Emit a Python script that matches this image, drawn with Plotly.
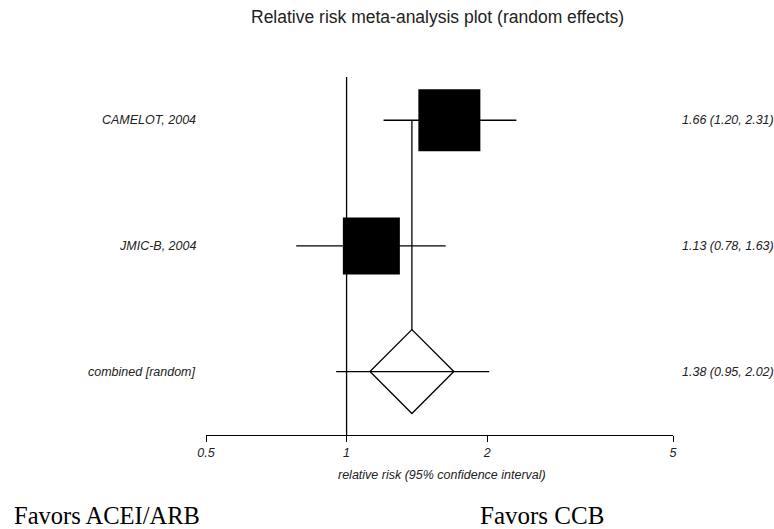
import math
import plotly.graph_objects as go

# ---------------- data ----------------
study_labels = ["CAMELOT, 2004", "JMIC-B, 2004"]
study_rr = [1.66, 1.13]
study_lo = [1.20, 0.78]
study_hi = [2.31, 1.63]
study_ci_text = ["1.66 (1.20, 2.31)", "1.13 (0.78, 1.63)"]
study_box_px = [62, 57]          # square side (relative weight), px

pooled_label = "combined [random]"
pooled_rr = 1.38
pooled_lo = 0.95
pooled_hi = 2.02
pooled_ci_text = "1.38 (0.95, 2.02)"

rows = [3, 2, 1]                 # vertical positions: studies then pooled
tick_vals = [0.5, 1, 2, 5]
tick_text = ["0.5", "1", "2", "5"]
x_min, x_max = 0.5, 5

title_text = "Relative risk meta-analysis plot (random effects)"
xaxis_text = "relative risk (95% confidence interval)"
favors_left = "Favors ACEI/ARB"
favors_right = "Favors CCB"

# ---------------- layout constants ----------------
W, H = 774, 529
L, R, T, B = 206, 101, 77, 94
SANS = "Liberation Sans, Arial, sans-serif"
SERIF = "Liberation Serif, Times New Roman, serif"
TXT = "#222222"
LW = 1.3

fig = go.Figure()

# pooled vertical line from first study row down to pooled row
fig.add_trace(go.Scatter(
    x=[pooled_rr, pooled_rr], y=[rows[0], rows[-1]],
    mode="lines", line=dict(color="black", width=LW),
    hoverinfo="skip", showlegend=False))

# study CI lines
for i in range(len(study_labels)):
    fig.add_trace(go.Scatter(
        x=[study_lo[i], study_hi[i]], y=[rows[i], rows[i]],
        mode="lines", line=dict(color="black", width=LW),
        hoverinfo="skip", showlegend=False))

# study squares
fig.add_trace(go.Scatter(
    x=study_rr, y=rows[:len(study_rr)], mode="markers",
    marker=dict(symbol="square", size=study_box_px, color="black", opacity=1,
                line=dict(width=0)),
    hoverinfo="skip", showlegend=False))

# pooled diamond (white fill hides vertical line)
fig.add_trace(go.Scatter(
    x=[pooled_rr], y=[rows[-1]], mode="markers",
    marker=dict(symbol="diamond", size=64.5, color="white", opacity=1,
                line=dict(color="black", width=LW)),
    hoverinfo="skip", showlegend=False))

# pooled CI line
fig.add_trace(go.Scatter(
    x=[pooled_lo, pooled_hi], y=[rows[-1], rows[-1]],
    mode="lines", line=dict(color="black", width=LW),
    hoverinfo="skip", showlegend=False))

# line of no effect
fig.add_shape(type="line", xref="x", yref="paper", x0=1, x1=1, y0=0, y1=1,
              line=dict(color="black", width=LW), layer="above")

annotations = []
small = dict(family=SANS, size=12.5, color=TXT, style="italic")
labels_left = study_labels + [pooled_label]
labels_right = study_ci_text + [pooled_ci_text]
PW = W - L - R
for lab, txt, yy in zip(labels_left, labels_right, rows):
    annotations.append(dict(text=lab, xref="paper", yref="y", x=(198 - L) / PW,
                            y=yy, xanchor="right", yanchor="middle", showarrow=False,
                            font=small))
    annotations.append(dict(text=txt, xref="paper", yref="y", x=(680 - L) / PW,
                            y=yy, xanchor="left", yanchor="middle", showarrow=False,
                            font=small))

annotations.append(dict(text=xaxis_text, xref="paper", yref="paper", x=(442 - L) / PW,
                        y=0, yshift=-40, xanchor="center", yanchor="middle",
                        showarrow=False, font=small))
annotations.append(dict(text=favors_left, xref="paper", yref="paper", x=(12 - L) / PW,
                        y=0, yshift=-80, xanchor="left", yanchor="middle",
                        showarrow=False, font=dict(family=SERIF, size=24.5, color="black")))
annotations.append(dict(text=favors_right, xref="paper", yref="paper", x=(478 - L) / PW,
                        y=0, yshift=-80, xanchor="left", yanchor="middle",
                        showarrow=False, font=dict(family=SERIF, size=25, color="black")))
annotations.append(dict(text=title_text, xref="paper", yref="paper", x=(437 - L) / PW,
                        y=1, yshift=T - 17, xanchor="center", yanchor="middle",
                        showarrow=False, font=dict(family=SANS, size=17.5, color=TXT)))

fig.update_layout(
    width=W, height=H,
    margin=dict(l=L, r=R, t=T, b=B, pad=0),
    paper_bgcolor="white", plot_bgcolor="white",
    showlegend=False,
    annotations=annotations,
    xaxis=dict(type="log", range=[math.log10(x_min), math.log10(x_max)],
               tickvals=tick_vals, ticktext=tick_text,
               showline=True, linecolor="black", linewidth=LW,
               ticks="outside", ticklen=6, tickwidth=LW, tickcolor="black",
               tickfont=small, showgrid=False, zeroline=False, fixedrange=True),
    yaxis=dict(range=[0.495, 3.344], visible=False, showgrid=False,
               zeroline=False, fixedrange=True),
)

fig.write_html(
    "out.html",
    config={"displayModeBar": False},
    post_script="document.body.style.margin='0';document.body.style.overflow='hidden';",
)
